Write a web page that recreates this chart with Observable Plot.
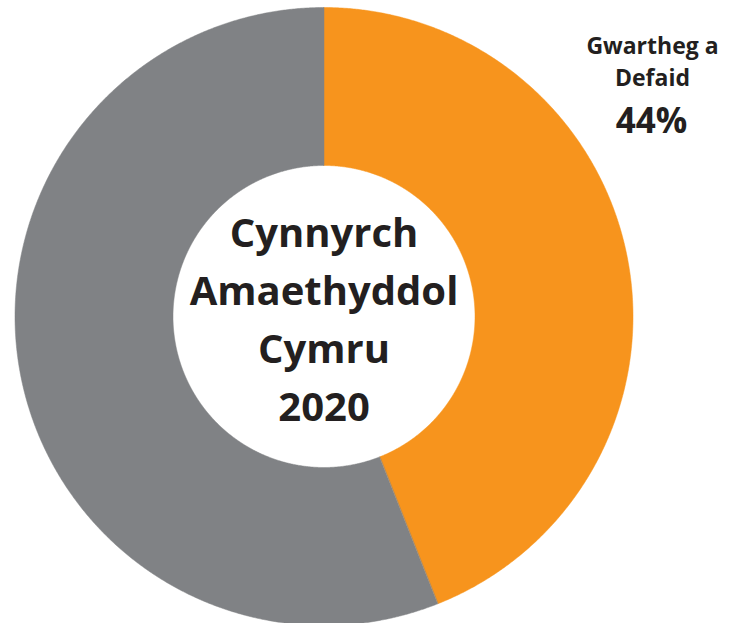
<!DOCTYPE html>
<html>
<head>
<meta charset="utf-8">
<script src="https://cdn.jsdelivr.net/npm/d3@7"></script>
<script src="https://cdn.jsdelivr.net/npm/@observablehq/plot@0.6"></script>
<style>
  html, body { margin: 0; padding: 0; background: #fff; }
  #chart svg { display: block; }
</style>
</head>
<body>
<div id="chart"></div>
<script>
// Data
const categories = ["Gwartheg a Defaid", "Arall"];
const shares = [44, 56];
const colors = ["#F7941D", "#808285"];
const labelLines = ["Gwartheg a", "Defaid"];
const labelValue = "44%";
const centerTitle = ["Cynnyrch", "Amaethyddol", "Cymru", "2020"];

const W = 741, H = 623;
const cx = 323.5, cy = 316, R = 309;
const innerR = 151 / R;

// pie layout (clockwise from 12 o'clock)
const pie = d3.pie().sort(null).value(d => d.value);
const arcs = pie(categories.map((c, i) => ({cat: c, value: shares[i], color: colors[i]})));

function ring(a0, a1, r0, r1) {
  const n = Math.max(8, Math.ceil((a1 - a0) / 0.005));
  const pts = [];
  for (let i = 0; i <= n; i++) {
    const a = a0 + (a1 - a0) * i / n;
    pts.push({x: r1 * Math.sin(a), y: r1 * Math.cos(a)});
  }
  for (let i = n; i >= 0; i--) {
    const a = a0 + (a1 - a0) * i / n;
    pts.push({x: r0 * Math.sin(a), y: r0 * Math.cos(a)});
  }
  return pts;
}

const px = v => (v - cx) / R;
const py = v => (cy - v) / R;

const marks = arcs.map(a =>
  Plot.line(ring(a.startAngle, a.endAngle, innerR, 1), {
    x: "x", y: "y", fill: a.data.color, stroke: a.data.color, strokeWidth: 0.5, curve: "linear-closed"
  })
);

const font = "'Open Sans', Lato, sans-serif";

marks.push(
  Plot.text([centerTitle.join("\n")], {
    x: 0, y: py(420), text: d => d, lineAnchor: "bottom", textAnchor: "middle",
    fontSize: 40, lineHeight: 58 / 40, fontWeight: 700, fill: "#231F20", fontFamily: font
  }),
  Plot.text([labelLines.join("\n")], {
    x: px(652), y: py(85), text: d => d, lineAnchor: "bottom", textAnchor: "middle",
    fontSize: 23, lineHeight: 32 / 23, fontWeight: 700, fill: "#231F20", fontFamily: font
  }),
  Plot.text([labelValue], {
    x: px(651), y: py(132), text: d => d, lineAnchor: "bottom", textAnchor: "middle",
    fontSize: 35, fontWeight: 700, fill: "#231F20", fontFamily: font
  })
);

const chart = Plot.plot({
  width: W, height: H,
  margin: 0,
  x: {type: "linear", domain: [px(0), px(W)], range: [0, W], axis: null},
  y: {type: "linear", domain: [py(H), py(0)], range: [H, 0], axis: null},
  style: {background: "#fff", overflow: "visible"},
  marks
});
document.getElementById("chart").appendChild(chart);
</script>
</body>
</html>
